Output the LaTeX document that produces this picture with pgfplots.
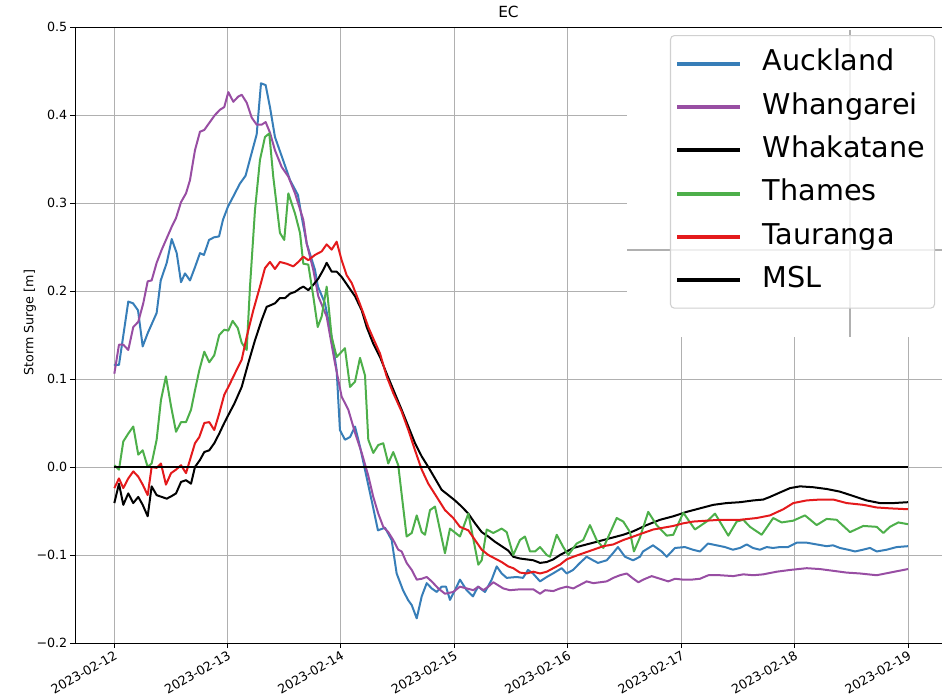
\documentclass[border=0pt]{standalone}
\usepackage{fontspec}
\setmainfont{DejaVu Sans}
\usepackage{pgfplots}
\pgfplotsset{compat=1.18}
\definecolor{cAuck}{HTML}{377EB8}
\definecolor{cWhan}{HTML}{984EA3}
\definecolor{cTham}{HTML}{4DAF4A}
\definecolor{cTaur}{HTML}{E41A1C}
\definecolor{gridc}{HTML}{B0B0B0}
\definecolor{legc}{HTML}{D0D0D0}
\begin{document}
\begin{tikzpicture}
\begin{axis}[name=ax, scale only axis, width=650.25pt, height=462pt,
 xmin=-0.3438, xmax=7.3, ymin=-0.2, ymax=0.5,
 axis x line*=box, axis y line*=left, xtick pos=left, ytick pos=left,
 axis line style={line width=0.6pt},
 tick align=outside, major tick length=3.6pt, tick style={line width=0.6pt, black},
 xtick={0,1,2,3,4,5,6,7},
 xticklabels={2023-02-12,2023-02-13,2023-02-14,2023-02-15,2023-02-16,2023-02-17,2023-02-18,2023-02-19},
 ytick={-0.2,-0.1,0,0.1,0.2,0.3,0.4,0.5},
 yticklabels={−0.2,−0.1,0.0,0.1,0.2,0.3,0.4,0.5},
 grid=major, grid style={gridc, line width=0.6pt},
 tick label style={font=\fontsize{9.5}{11}\selectfont},
 x tick label style={rotate=30, anchor=north east, inner sep=1pt},
 y tick label style={inner sep=2pt},
 title={EC},
 every axis title/.style={font=\fontsize{11.5}{13}\selectfont, at={(rel axis cs:0.5,1)}, anchor=base, yshift=6.75pt, inner sep=0pt},
 ylabel={Storm Surge [m]}, ylabel style={font=\fontsize{9.5}{11}\selectfont, at={(rel axis cs:-0.052,0.52)}, anchor=center},
 every axis plot/.append style={line width=1.5pt, line join=round},
 legend cell align=left,
 legend image code/.code={\draw[#1, line width=3pt] (0pt,0pt) -- (47pt,0pt);},
 legend style={at={(rel axis cs:0.992,0.987)}, anchor=north east, draw=legc, line width=0.8pt, rounded corners=3pt,
   fill=white, fill opacity=0.8, text opacity=1, draw opacity=1,
   font=\fontsize{21.5}{25}\selectfont, inner xsep=3.5pt, inner ysep=8.5pt, row sep=7.5pt,
   nodes={text height=16pt, text depth=5pt, inner ysep=2pt, inner xsep=3.5pt},
   /tikz/every odd column/.append style={column sep=12.25pt}},
 ]
% pasted panel region (white) with grey crosshair remnants
\fill[white] (axis cs:4.523,0.4985) rectangle (axis cs:7.3,0.1477);
\draw[gridc, line width=1.5pt] (axis cs:4.523,0.2466) -- (axis cs:7.3,0.2466);
\draw[gridc, line width=1.5pt] (axis cs:6.489,0.4966) -- (axis cs:6.489,0.1477);

\addplot[cAuck] coordinates {(0.00,0.116)(0.044,0.116)(0.126,0.188)(0.168,0.186)(0.212,0.178)(0.253,0.137)(0.297,0.152)(0.376,0.175)(0.412,0.212)(0.465,0.232)(0.509,0.259)(0.553,0.243)(0.591,0.210)(0.626,0.220)(0.670,0.212)(0.714,0.227)(0.758,0.243)(0.793,0.241)(0.838,0.258)(0.882,0.261)(0.926,0.262)(0.961,0.281)(1.005,0.296)(1.05,0.307)(1.11,0.322)(1.16,0.331)(1.214,0.357)(1.258,0.378)(1.296,0.436)(1.337,0.434)(1.375,0.409)(1.419,0.375)(1.490,0.349)(1.552,0.326)(1.622,0.309)(1.655,0.284)(1.699,0.254)(1.772,0.224)(1.798,0.205)(1.860,0.186)(1.919,0.148)(1.963,0.110)(1.992,0.042)(2.036,0.031)(2.081,0.034)(2.125,0.046)(2.169,0.023)(2.283,-0.045)(2.327,-0.072)(2.389,-0.069)(2.448,-0.083)(2.492,-0.121)(2.548,-0.140)(2.592,-0.151)(2.625,-0.157)(2.669,-0.172)(2.713,-0.147)(2.757,-0.132)(2.801,-0.138)(2.845,-0.142)(2.889,-0.136)(2.927,-0.136)(2.962,-0.151)(3.006,-0.140)(3.050,-0.128)(3.109,-0.140)(3.165,-0.147)(3.209,-0.136)(3.271,-0.142)(3.330,-0.128)(3.374,-0.113)(3.418,-0.121)(3.462,-0.126)(3.550,-0.125)(3.606,-0.126)(3.650,-0.117)(3.694,-0.121)(3.756,-0.130)(3.815,-0.125)(3.870,-0.121)(3.947,-0.115)(3.991,-0.121)(4.047,-0.117)(4.108,-0.109)(4.167,-0.102)(4.223,-0.106)(4.267,-0.109)(4.344,-0.106)(4.399,-0.098)(4.443,-0.091)(4.505,-0.102)(4.576,-0.106)(4.637,-0.102)(4.664,-0.096)(4.752,-0.089)(4.828,-0.096)(4.873,-0.102)(4.946,-0.092)(5.034,-0.091)(5.104,-0.094)(5.166,-0.096)(5.237,-0.087)(5.313,-0.089)(5.387,-0.091)(5.457,-0.094)(5.519,-0.092)(5.578,-0.088)(5.633,-0.092)(5.695,-0.094)(5.754,-0.091)(5.810,-0.092)(5.871,-0.091)(5.942,-0.091)(6.019,-0.086)(6.107,-0.086)(6.195,-0.088)(6.283,-0.090)(6.339,-0.089)(6.400,-0.092)(6.471,-0.094)(6.533,-0.096)(6.603,-0.094)(6.665,-0.092)(6.724,-0.096)(6.812,-0.094)(6.900,-0.091)(7.000,-0.090)};
\addlegendentry{Auckland}

\addplot[cWhan] coordinates {(0.003,0.106)(0.044,0.139)(0.082,0.139)(0.126,0.133)(0.170,0.159)(0.214,0.165)(0.258,0.186)(0.297,0.211)(0.332,0.212)(0.376,0.232)(0.421,0.247)(0.465,0.260)(0.509,0.273)(0.547,0.283)(0.591,0.301)(0.635,0.311)(0.670,0.326)(0.714,0.360)(0.758,0.381)(0.796,0.383)(0.840,0.391)(0.890,0.400)(0.935,0.406)(0.972,0.409)(1.008,0.426)(1.052,0.415)(1.096,0.421)(1.126,0.423)(1.170,0.414)(1.214,0.397)(1.258,0.389)(1.302,0.389)(1.337,0.392)(1.375,0.380)(1.419,0.360)(1.478,0.341)(1.537,0.330)(1.596,0.311)(1.669,0.281)(1.699,0.254)(1.757,0.224)(1.801,0.194)(1.875,0.171)(1.948,0.118)(2.007,0.080)(2.066,0.065)(2.125,0.039)(2.184,0.016)(2.242,-0.010)(2.286,-0.034)(2.330,-0.053)(2.374,-0.068)(2.418,-0.074)(2.462,-0.083)(2.506,-0.094)(2.536,-0.096)(2.580,-0.109)(2.625,-0.117)(2.669,-0.128)(2.713,-0.127)(2.757,-0.125)(2.801,-0.130)(2.859,-0.138)(2.918,-0.144)(2.991,-0.142)(3.050,-0.136)(3.109,-0.138)(3.168,-0.140)(3.212,-0.136)(3.256,-0.140)(3.300,-0.136)(3.344,-0.131)(3.432,-0.138)(3.491,-0.140)(3.579,-0.139)(3.697,-0.139)(3.756,-0.144)(3.800,-0.140)(3.873,-0.141)(3.932,-0.138)(3.991,-0.136)(4.049,-0.138)(4.108,-0.134)(4.167,-0.130)(4.226,-0.132)(4.344,-0.130)(4.402,-0.126)(4.461,-0.123)(4.520,-0.121)(4.579,-0.127)(4.623,-0.131)(4.666,-0.128)(4.740,-0.124)(4.814,-0.127)(4.887,-0.130)(4.946,-0.127)(5.019,-0.128)(5.093,-0.128)(5.166,-0.127)(5.240,-0.123)(5.343,-0.123)(5.460,-0.124)(5.548,-0.122)(5.636,-0.123)(5.724,-0.122)(5.842,-0.119)(5.960,-0.117)(6.107,-0.115)(6.224,-0.116)(6.342,-0.118)(6.459,-0.120)(6.577,-0.121)(6.724,-0.123)(6.841,-0.120)(7.000,-0.116)};
\addlegendentry{Whangarei}

\addplot[black] coordinates {(0.003,-0.041)(0.044,-0.019)(0.082,-0.043)(0.126,-0.030)(0.170,-0.041)(0.214,-0.034)(0.253,-0.043)(0.297,-0.056)(0.332,-0.022)(0.376,-0.032)(0.421,-0.034)(0.465,-0.036)(0.509,-0.033)(0.547,-0.030)(0.591,-0.017)(0.635,-0.015)(0.679,-0.019)(0.714,0.000)(0.758,0.008)(0.796,0.017)(0.840,0.019)(0.884,0.027)(0.928,0.038)(0.972,0.050)(1.016,0.061)(1.061,0.072)(1.126,0.091)(1.184,0.118)(1.243,0.144)(1.302,0.167)(1.346,0.182)(1.384,0.184)(1.419,0.186)(1.463,0.192)(1.508,0.192)(1.552,0.197)(1.596,0.199)(1.640,0.203)(1.669,0.205)(1.713,0.201)(1.757,0.207)(1.801,0.214)(1.845,0.224)(1.875,0.232)(1.919,0.222)(1.963,0.222)(2.007,0.216)(2.066,0.205)(2.125,0.194)(2.184,0.178)(2.228,0.159)(2.286,0.140)(2.345,0.125)(2.404,0.106)(2.462,0.088)(2.536,0.065)(2.595,0.046)(2.654,0.027)(2.713,0.012)(2.771,0.000)(2.830,-0.013)(2.889,-0.026)(2.948,-0.032)(3.006,-0.038)(3.065,-0.045)(3.124,-0.053)(3.183,-0.064)(3.242,-0.074)(3.300,-0.079)(3.359,-0.085)(3.418,-0.090)(3.476,-0.095)(3.520,-0.102)(3.579,-0.104)(3.638,-0.105)(3.697,-0.106)(3.756,-0.109)(3.815,-0.108)(3.873,-0.105)(3.932,-0.100)(3.991,-0.096)(4.049,-0.092)(4.137,-0.089)(4.226,-0.086)(4.314,-0.083)(4.402,-0.080)(4.490,-0.077)(4.579,-0.073)(4.696,-0.066)(4.814,-0.060)(4.931,-0.056)(5.049,-0.051)(5.166,-0.047)(5.284,-0.043)(5.401,-0.041)(5.519,-0.040)(5.636,-0.038)(5.724,-0.037)(5.783,-0.034)(5.871,-0.029)(5.960,-0.024)(6.048,-0.022)(6.165,-0.023)(6.283,-0.025)(6.400,-0.028)(6.518,-0.033)(6.636,-0.038)(6.753,-0.041)(6.871,-0.041)(7.000,-0.040)};
\addlegendentry{Whakatane}

\addplot[cTham] coordinates {(0.003,0.002)(0.044,-0.003)(0.082,0.029)(0.126,0.038)(0.170,0.046)(0.214,0.014)(0.253,0.019)(0.297,0.000)(0.332,0.004)(0.376,0.031)(0.414,0.076)(0.458,0.103)(0.503,0.069)(0.547,0.040)(0.591,0.051)(0.635,0.051)(0.679,0.065)(0.714,0.087)(0.752,0.110)(0.796,0.131)(0.840,0.119)(0.884,0.127)(0.928,0.150)(0.972,0.156)(1.008,0.155)(1.046,0.166)(1.091,0.158)(1.126,0.141)(1.170,0.133)(1.199,0.205)(1.243,0.292)(1.287,0.349)(1.331,0.375)(1.369,0.379)(1.404,0.330)(1.463,0.266)(1.501,0.258)(1.537,0.311)(1.596,0.288)(1.640,0.266)(1.669,0.231)(1.713,0.230)(1.757,0.194)(1.796,0.159)(1.831,0.171)(1.875,0.205)(1.919,0.148)(1.963,0.125)(2.036,0.135)(2.081,0.091)(2.125,0.097)(2.169,0.124)(2.213,0.104)(2.242,0.031)(2.286,0.016)(2.330,0.025)(2.374,0.027)(2.418,0.004)(2.462,0.017)(2.506,0.002)(2.580,-0.079)(2.625,-0.075)(2.669,-0.055)(2.713,-0.074)(2.742,-0.077)(2.786,-0.049)(2.830,-0.045)(2.918,-0.098)(2.962,-0.070)(3.050,-0.079)(3.124,-0.053)(3.212,-0.111)(3.242,-0.106)(3.286,-0.071)(3.344,-0.075)(3.418,-0.070)(3.462,-0.074)(3.520,-0.100)(3.579,-0.083)(3.623,-0.079)(3.668,-0.096)(3.712,-0.096)(3.756,-0.091)(3.815,-0.100)(3.844,-0.102)(3.903,-0.077)(3.961,-0.091)(4.005,-0.100)(4.079,-0.087)(4.137,-0.083)(4.196,-0.066)(4.255,-0.083)(4.314,-0.092)(4.373,-0.075)(4.432,-0.058)(4.490,-0.062)(4.549,-0.074)(4.584,-0.096)(4.637,-0.080)(4.710,-0.051)(4.784,-0.066)(4.873,-0.078)(4.931,-0.077)(5.019,-0.052)(5.122,-0.071)(5.225,-0.062)(5.299,-0.053)(5.416,-0.078)(5.490,-0.062)(5.548,-0.060)(5.607,-0.068)(5.710,-0.077)(5.812,-0.058)(5.886,-0.063)(5.988,-0.061)(6.092,-0.055)(6.195,-0.066)(6.283,-0.059)(6.371,-0.060)(6.489,-0.074)(6.606,-0.067)(6.724,-0.068)(6.783,-0.075)(6.841,-0.068)(6.915,-0.063)(7.000,-0.065)};
\addlegendentry{Thames}

\addplot[cTaur] coordinates {(0.003,-0.024)(0.044,-0.013)(0.082,-0.024)(0.126,-0.013)(0.170,-0.005)(0.214,-0.011)(0.253,-0.020)(0.297,-0.032)(0.332,0.000)(0.376,-0.001)(0.414,0.004)(0.458,-0.020)(0.503,-0.007)(0.547,-0.003)(0.591,0.002)(0.635,-0.007)(0.679,0.012)(0.714,0.027)(0.752,0.034)(0.796,0.050)(0.840,0.051)(0.884,0.042)(0.928,0.061)(0.972,0.082)(1.016,0.093)(1.061,0.105)(1.126,0.122)(1.170,0.148)(1.228,0.178)(1.287,0.205)(1.331,0.226)(1.375,0.233)(1.419,0.225)(1.463,0.233)(1.522,0.231)(1.581,0.228)(1.625,0.233)(1.669,0.239)(1.713,0.235)(1.772,0.241)(1.831,0.245)(1.875,0.253)(1.919,0.247)(1.963,0.256)(2.007,0.235)(2.051,0.218)(2.096,0.209)(2.154,0.190)(2.198,0.175)(2.242,0.159)(2.286,0.146)(2.345,0.129)(2.404,0.103)(2.462,0.084)(2.536,0.063)(2.595,0.042)(2.654,0.019)(2.713,-0.003)(2.771,-0.019)(2.845,-0.034)(2.918,-0.049)(2.991,-0.058)(3.050,-0.068)(3.124,-0.072)(3.183,-0.083)(3.242,-0.094)(3.300,-0.100)(3.359,-0.104)(3.418,-0.108)(3.476,-0.113)(3.520,-0.115)(3.579,-0.120)(3.638,-0.121)(3.697,-0.119)(3.756,-0.121)(3.815,-0.119)(3.873,-0.115)(3.932,-0.111)(3.991,-0.105)(4.049,-0.102)(4.137,-0.098)(4.226,-0.094)(4.314,-0.090)(4.402,-0.088)(4.490,-0.083)(4.579,-0.079)(4.666,-0.075)(4.755,-0.071)(4.843,-0.069)(4.931,-0.067)(5.019,-0.064)(5.107,-0.062)(5.225,-0.061)(5.343,-0.060)(5.519,-0.060)(5.666,-0.058)(5.783,-0.055)(5.901,-0.048)(5.989,-0.041)(6.107,-0.038)(6.224,-0.037)(6.342,-0.037)(6.459,-0.041)(6.606,-0.043)(6.724,-0.046)(6.841,-0.047)(7.000,-0.048)};
\addlegendentry{Tauranga}

\addplot[black] coordinates {(0,0)(7,0)};
\addlegendentry{MSL}
\end{axis}
\pgfresetboundingbox
\path[use as bounding box] ([xshift=-56.25pt,yshift=-40.5pt]ax.south west) rectangle ([yshift=20.25pt]ax.north east);
\end{tikzpicture}
\end{document}
